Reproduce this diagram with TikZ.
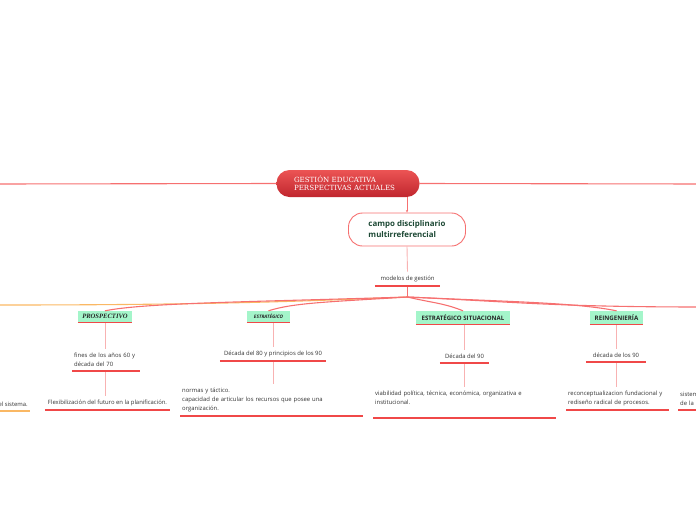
\documentclass[tikz,border=0pt]{standalone}
\usepackage{fontspec}
\setmainfont{Open Sans}
\newfontfamily\slabfont{DejaVu Serif}
\newfontfamily\romanfont{Liberation Serif}
\usepackage{tikz}
\usetikzlibrary{arrows.meta, positioning, calc}

\definecolor{linered}{RGB}{246,112,112}
\definecolor{ulinered}{RGB}{240,72,72}
\definecolor{stempink}{RGB}{248,178,178}
\definecolor{rootlight}{RGB}{236,84,84}
\definecolor{rootdark}{RGB}{192,38,46}
\definecolor{campogreen}{RGB}{28,72,52}
\definecolor{mint}{RGB}{164,245,202}
\definecolor{textgray}{RGB}{51,51,51}
\definecolor{orangeline}{RGB}{250,184,100}

\begin{document}
\begin{tikzpicture}[x=1pt, y=-1pt,
            rootbox/.style={
                rectangle, rounded corners=13pt,
                minimum width=143pt, minimum height=27pt,
                top color=rootlight, bottom color=rootdark, draw=none,
                text=white, text width=108pt, align=left,
                font=\slabfont\fontsize{7.1}{8.2}\selectfont
            },
            campobox/.style={
                rectangle, rounded corners=14pt,
                minimum width=117pt, minimum height=33pt,
                draw=linered, line width=0.9pt, fill=white,
                text=campogreen, align=left,
                font=\bfseries\fontsize{7.9}{11}\selectfont
            },
            topicbox/.style={
                rectangle, fill=mint, draw=none, inner sep=1pt,
                minimum height=11pt, text=black!85
            },
            notetext/.style={
                inner xsep=2pt, inner ysep=4pt, align=left,
                text=textgray, font=\fontsize{5.9}{9}\selectfont
            },
            branch/.style={draw=linered, line width=1.1pt},
            stem/.style={draw=stempink, line width=0.9pt},
            uline/.style={draw=ulinered, line width=1.2pt}
        ]
            \useasboundingbox (0,0) rectangle (696,520);
            \clip (0,0) rectangle (696,520);

            % central topic
            \node[rootbox] (root) at (348,183.5) {GESTIÓN EDUCATIVA\\PERSPECTIVAS ACTUALES};
            \coordinate (farleft) at (-5,184);
            \coordinate (farright) at (705,184);
            \draw[branch] (root.west) -- (farleft);
            \draw[branch] (root.east) -- (farright);

            \node[campobox] (campo) at (407,229.5) {campo disciplinario\\multirreferencial};
            \draw[branch, line width=0.9pt, -{Stealth[length=2.5pt, width=2.2pt]}] (root.south -| campo.north) -- (campo.north);

            \node[notetext, anchor=south, minimum width=65pt] (model) at (407.5,286) {modelos de gestión};
            \draw[stem] (campo.south) -- (model.north);
            \coordinate (split) at (407.5,297);
            \draw[branch] (model.south) -- (split);

            % the four models
            \node[topicbox, minimum width=54pt, font=\romanfont\bfseries\itshape\fontsize{6.6}{7}\selectfont] (pros) at (105,316.5) {PROSPECTIVO};
            \node[topicbox, minimum width=43pt, font=\bfseries\itshape\fontsize{4.7}{5}\selectfont] (estr) at (268.5,316.5) {ESTRATÉGICO};
            \node[topicbox, minimum width=94pt, minimum height=13pt, font=\bfseries\fontsize{6.1}{7}\selectfont] (sit) at (463,317.5) {ESTRATÉGICO SITUACIONAL};
            \node[topicbox, minimum width=53pt, minimum height=13pt, font=\bfseries\fontsize{6.2}{7}\selectfont] (rein) at (616.5,317.5) {REINGENIERÍA};
            \coordinate (leftend) at (-5,305);
            \coordinate (rightend) at (705,307);

            \draw[branch, draw=orangeline] (split) .. controls +(-120,5) and +(200,0) .. (leftend);
            \draw[branch] (split) .. controls +(-160,5) and +(40,-8) .. (pros.north);
            \draw[branch] (split) .. controls +(-80,5) and +(25,-8) .. (estr.north);
            \draw[branch] (split) .. controls +(25,6) and +(-20,-8) .. (sit.north);
            \draw[branch] (split) .. controls +(110,5) and +(-40,-8) .. (rein.north);
            \draw[branch] (split) .. controls +(110,5) and +(-150,0) .. (rightend);

            % notes under each model
            \node[notetext, anchor=south west, text width=64pt] (fines) at (72,371) {fines de los años 60 y\\década del 70};
            \node[notetext, anchor=south, minimum width=125pt] (flex) at (107.5,410) {Flexibilización del futuro en la planificación.};
            \node[notetext, anchor=south, minimum width=106pt] (dec80) at (273,361) {Década del 80 y principios de los 90};
            \node[notetext, anchor=south west, text width=179pt] (normas) at (180,416) {normas y táctico.\\capacidad de articular los recursos  que posee una\\organización.};
            \node[notetext, anchor=south, minimum width=49pt] (dec90) at (464.5,363) {Década del 90};
            \node[notetext, anchor=south west, text width=179pt] (viab) at (373,418) {viabilidad política, técnica, económica, organizativa e\\institucional.\\\mbox{}};
            \node[notetext, anchor=south, minimum width=60pt] (decl90) at (616,362) {década de los 90};
            \node[notetext, anchor=south west, text width=99pt] (recon) at (566,410) {reconceptualizacion fundacional y\\rediseño radical de procesos.};
            \node[notetext, anchor=south west, text width=60pt] (sistem) at (678,410) {sistem\\de la};
            \node[notetext, anchor=south east] (leftnote) at (30,411) {del sistema.};

            \draw[stem] (pros.south) -- (pros.south |- fines.north);
            \draw[stem] (pros.south |- fines.south) -- (pros.south |- flex.north);
            \draw[stem] (estr.south -| dec80) -- (dec80.north);
            \draw[stem] (dec80.south) -- (dec80.south |- normas.north);
            \draw[stem] (sit.south -| dec90) -- (dec90.north);
            \draw[stem] (dec90.south) -- (dec90.south |- viab.north);
            \draw[stem] (rein.south) -- (rein.south |- decl90.north);
            \draw[stem] (decl90.south) -- (decl90.south |- recon.north);

            \foreach \n in {model, pros, estr, sit, rein, fines, flex, dec80, normas, dec90, viab, decl90, recon, sistem}
                \draw[uline] (\n.south west) -- (\n.south east);
            \draw[uline, draw=orangeline] (leftnote.south west) -- (leftnote.south east);
        \end{tikzpicture}
\end{document}
